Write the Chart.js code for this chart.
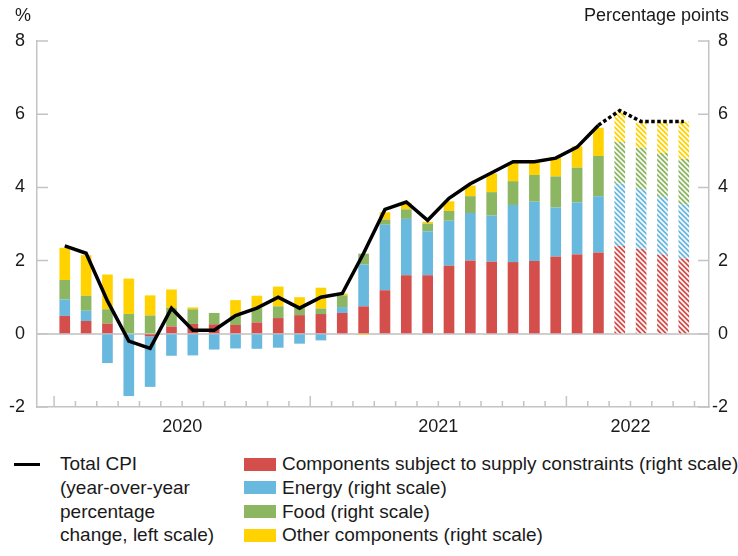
<!DOCTYPE html>
<html>
<head>
<meta charset="utf-8">
<script src="https://cdn.jsdelivr.net/npm/chart.js@4.4.1/dist/chart.umd.min.js"></script>
<style>
  html, body { margin: 0; padding: 0; background: #fff; }
  body { width: 738px; height: 556px; position: relative; overflow: hidden;
         font-family: "Liberation Sans", Arial, sans-serif; color: #1a1a1a; }
  #wrap { position: absolute; left: 0; top: 0; width: 738px; height: 450px; }
  .t { position: absolute; font-size: 18px; line-height: 20px; white-space: nowrap; }
  .lg { position: absolute; font-size: 19px; line-height: 23.6px; white-space: nowrap; }
  .sw { position: absolute; width: 32px; height: 13px; }
</style>
</head>
<body>
<div id="wrap"><canvas id="c" width="738" height="450"></canvas></div>
<div class="t" style="left:15px; top:5px;">%</div>
<div class="t" style="right:9px; top:5px;">Percentage points</div>
<div id="legend"></div>
<script>
// ---------------- DATA ----------------
const months = ["2020-01","2020-02","2020-03","2020-04","2020-05","2020-06","2020-07","2020-08","2020-09","2020-10","2020-11","2020-12",
                "2021-01","2021-02","2021-03","2021-04","2021-05","2021-06","2021-07","2021-08","2021-09","2021-10","2021-11","2021-12",
                "2022-01","2022-02","2022-03","2022-04","2022-05","2022-06"];
const forecastStart = "2022-03";
const yearLabels = ["2020", "2021", "2022"];
const yTicks = [-2, 0, 2, 4, 6, 8];

const totalCPI = [2.4, 2.2, 0.9, -0.2, -0.4, 0.7, 0.1, 0.1, 0.5, 0.7, 1.0, 0.7,
                  1.0, 1.1, 2.2, 3.4, 3.6, 3.1, 3.7, 4.1, 4.4, 4.7, 4.7, 4.8,
                  5.1, 5.7, 6.1, 5.8, 5.8, 5.8];
const supplyConstrained = [0.49, 0.35, 0.28, 0.00, -0.07, 0.20, 0.27, 0.26, 0.24, 0.31, 0.43, 0.51,
                           0.54, 0.57, 0.75, 1.19, 1.60, 1.60, 1.86, 2.00, 1.97, 1.96, 1.99, 2.11,
                           2.17, 2.22, 2.40, 2.32, 2.16, 2.06];
const energy = [0.45, 0.28, -0.80, -1.70, -1.38, -0.60, -0.59, -0.43, -0.40, -0.41, -0.38, -0.27,
                -0.18, 0.16, 1.14, 1.79, 1.54, 1.20, 1.23, 1.30, 1.26, 1.56, 1.62, 1.34,
                1.42, 1.54, 1.71, 1.63, 1.58, 1.48];
const food = [0.53, 0.41, 0.39, 0.54, 0.50, 0.51, 0.40, 0.31, 0.26, 0.39, 0.32, 0.19,
              0.15, 0.32, 0.30, 0.14, 0.26, 0.21, 0.27, 0.46, 0.64, 0.65, 0.73, 0.85,
              0.95, 1.10, 1.13, 1.13, 1.20, 1.24];
const otherComponents = [0.88, 1.11, 0.95, 0.97, 0.55, 0.50, 0.05, 0.00, 0.42, 0.34, 0.54, 0.30,
                         0.57, 0.05, -0.03, 0.20, 0.18, 0.05, 0.26, 0.29, 0.51, 0.52, 0.33, 0.53,
                         0.58, 0.77, 0.84, 0.70, 0.86, 1.02];

const seriesNames = ["Components subject to supply constraints (right scale)", "Energy (right scale)",
                     "Food (right scale)", "Other components (right scale)"];
const lineName = ["Total CPI", "(year-over-year", "percentage", "change, left scale)"];

// ---------------- STYLE ----------------
const colors = ["#d44f4b", "#69b8de", "#8cb661", "#ffd200"];
const axisGray = "#c4c4c4";
const fcIdx = months.indexOf(forecastStart);

function hatch(color) {
  const s = 5;
  const c = document.createElement("canvas");
  c.width = s; c.height = s;
  const g = c.getContext("2d");
  g.fillStyle = color; g.fillRect(0, 0, s, s);
  g.strokeStyle = "#ffffff"; g.lineWidth = 1.6;
  g.beginPath();
  g.moveTo(-1, -1); g.lineTo(s + 1, s + 1);
  g.moveTo(-1, s - 1); g.lineTo(1, s + 1);
  g.moveTo(s - 1, -1); g.lineTo(s + 1, 1);
  g.stroke();
  return g.createPattern(c, "repeat");
}

const yearCenters = yearLabels.map(y => {
  const idx = months.map((m, i) => m.startsWith(y) ? i : -1).filter(i => i >= 0);
  return idx.reduce((a, b) => a + b, 0) / idx.length;
});

const barSeries = [supplyConstrained, energy, food, otherComponents];
const barDatasets = barSeries.map((arr, k) => {
  const pat = hatch(colors[k]);
  return {
    type: "bar",
    label: seriesNames[k],
    data: arr.map((v, i) => ({ x: i, y: v })),
    backgroundColor: arr.map((v, i) => i >= fcIdx ? pat : colors[k]),
    borderWidth: 0,
    yAxisID: "y1",
    order: 1,
    categoryPercentage: 1,
    barPercentage: 0.5
  };
});

const lineDataset = {
  type: "line",
  label: lineName.join(" "),
  data: totalCPI.map((v, i) => ({ x: i, y: v })),
  borderColor: "#000",
  borderWidth: 3.5,
  pointRadius: 0,
  tension: 0,
  yAxisID: "y",
  order: 0,
  segment: {
    borderDash: c => c.p0DataIndex >= fcIdx - 1 ? [3.5, 2.5] : undefined
  }
};

const tickPlugin = {
  id: "inwardTicks",
  afterDraw(chart) {
    const { ctx, chartArea: a, scales } = chart;
    ctx.save();
    ctx.strokeStyle = axisGray;
    ctx.lineWidth = 1.5;
    ctx.beginPath();
    yTicks.forEach(v => {
      const py = scales.y.getPixelForValue(v);
      ctx.moveTo(a.left, py); ctx.lineTo(a.left + 11, py);
      ctx.moveTo(a.right - 11, py); ctx.lineTo(a.right, py);
    });
    for (let i = 0; i <= months.length; i++) {
      const px = scales.x.getPixelForValue(i - 0.5);
      const major = i < months.length && months[i].endsWith("-01");
      ctx.moveTo(px, a.bottom); ctx.lineTo(px, a.bottom - (major ? 11 : 6));
    }
    ctx.stroke();
    ctx.restore();
  }
};

Chart.defaults.font.family = '"Liberation Sans", Arial, sans-serif';
Chart.defaults.font.size = 18;
Chart.defaults.color = "#1a1a1a";

new Chart(document.getElementById("c"), {
  data: { datasets: [lineDataset, ...barDatasets] },
  options: {
    responsive: false,
    animation: false,
    layout: { padding: { top: 41, right: 10, left: 0, bottom: 0 } },
    plugins: { legend: { display: false }, tooltip: { enabled: false } },
    scales: {
      x: {
        type: "linear",
        min: -1.3,
        max: 30.18,
        offset: false,
        stacked: true,
        afterFit: s => { s.height = 43; },
        afterBuildTicks: s => { s.ticks = yearCenters.map(v => ({ value: v })); },
        grid: { drawOnChartArea: false, drawTicks: false },
        border: { display: true, color: axisGray, width: 1.5 },
        ticks: { autoSkip: false, maxRotation: 0, padding: 9, callback: (v, i) => yearLabels[i] }
      },
      y: {
        position: "left",
        min: -2, max: 8,
        afterFit: s => { s.width = 37; },
        afterBuildTicks: s => { s.ticks = yTicks.map(v => ({ value: v })); },
        grid: {
          drawTicks: false,
          color: c => c.tick && c.tick.value === 0 ? "#cfcfcf" : "rgba(0,0,0,0)",
          lineWidth: 2
        },
        border: { display: true, color: axisGray, width: 1.5 },
        ticks: { padding: 12 }
      },
      y1: {
        position: "right",
        min: -2, max: 8,
        stacked: true,
        afterFit: s => { s.width = 19; },
        afterBuildTicks: s => { s.ticks = yTicks.map(v => ({ value: v })); },
        grid: { drawOnChartArea: false, drawTicks: false },
        border: { display: true, color: axisGray, width: 1.5 },
        ticks: { padding: 0, crossAlign: "far" }
      }
    }
  },
  plugins: [tickPlugin]
});

// ---------------- LEGEND (HTML text) ----------------
const lg = document.getElementById("legend");
const rowTop = [452.4, 476, 499.6, 523.2];
let html = '<div style="position:absolute;left:14px;top:' + (rowTop[0] + 10.5) + 'px;width:26px;height:3px;background:#000"></div>';
lineName.forEach((t, r) => {
  html += '<div class="lg" style="left:60px;top:' + rowTop[r] + 'px">' + t + '</div>';
});
seriesNames.forEach((t, r) => {
  html += '<div class="sw" style="left:244px;top:' + (rowTop[r] + 5.3) + 'px;background:' + colors[r] + '"></div>';
  html += '<div class="lg" style="left:282px;top:' + rowTop[r] + 'px">' + t + '</div>';
});
lg.innerHTML = html;
</script>
</body>
</html>
